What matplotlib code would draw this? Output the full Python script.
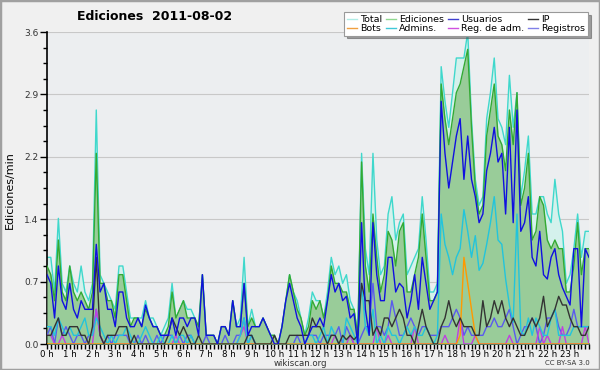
import numpy as np
import matplotlib.pyplot as plt
from matplotlib.lines import Line2D

# Data: edits per minute, 10-minute buckets (0 h .. 23 h 50)
hour_labels = [f"{h} h" for h in range(24)]

total = [
    1.0, 1.0, 0.6, 1.45, 0.7, 0.6, 0.9, 0.7, 0.6, 0.9, 0.6, 0.5,
    0.7, 2.7, 0.8, 0.7, 0.6, 0.5, 0.4, 0.9, 0.9, 0.6, 0.3, 0.3,
    0.3, 0.3, 0.5, 0.3, 0.3, 0.2, 0.1, 0.2, 0.3, 0.7, 0.3, 0.4,
    0.5, 0.4, 0.4, 0.3, 0.2, 0.8, 0.1, 0.1, 0.1, 0.0, 0.2, 0.2,
    0.1, 0.5, 0.2, 0.3, 1.0, 0.2, 0.4, 0.2, 0.2, 0.3, 0.2, 0.1,
    0.1, 0.0, 0.2, 0.5, 0.8, 0.6, 0.5, 0.3, 0.1, 0.3, 0.6, 0.5,
    0.5, 0.3, 0.6, 1.0, 0.8, 0.9, 0.7, 0.8, 0.5, 0.4, 0.1, 2.2,
    1.1, 0.8, 2.2, 1.2, 0.8, 0.9, 1.5, 1.7, 1.2, 1.4, 1.5, 0.8,
    0.9, 1.0, 1.1, 1.7, 1.2, 0.6, 0.6, 0.7, 3.2, 2.8, 2.5, 2.9,
    3.3, 3.3, 3.3, 3.6, 2.6, 1.9, 1.6, 1.7, 2.6, 2.9, 3.3, 2.6,
    2.5, 2.3, 3.1, 2.5, 2.9, 1.7, 2.0, 2.4, 1.5, 1.5, 1.7, 1.7,
    1.5, 1.4, 1.9, 1.5, 1.3, 0.7, 0.8, 1.1, 1.5, 1.0, 1.3, 1.3,
]
ediciones = [
    0.9, 0.8, 0.5, 1.2, 0.6, 0.5, 0.9, 0.6, 0.5, 0.6, 0.5, 0.4,
    0.6, 2.2, 0.7, 0.7, 0.5, 0.5, 0.3, 0.8, 0.8, 0.5, 0.2, 0.3,
    0.3, 0.2, 0.4, 0.3, 0.2, 0.2, 0.1, 0.1, 0.2, 0.6, 0.3, 0.4,
    0.5, 0.3, 0.3, 0.3, 0.2, 0.8, 0.1, 0.1, 0.1, 0.0, 0.2, 0.2,
    0.1, 0.5, 0.2, 0.2, 0.7, 0.2, 0.3, 0.2, 0.2, 0.3, 0.2, 0.1,
    0.1, 0.0, 0.2, 0.5, 0.8, 0.6, 0.4, 0.3, 0.1, 0.2, 0.5, 0.4,
    0.5, 0.3, 0.5, 0.9, 0.7, 0.7, 0.6, 0.6, 0.4, 0.4, 0.1, 2.1,
    0.9, 0.6, 1.5, 1.0, 0.6, 0.8, 1.3, 1.2, 0.9, 1.3, 1.4, 0.6,
    0.6, 0.8, 1.0, 1.5, 1.0, 0.5, 0.5, 0.6, 3.0, 2.6, 2.3, 2.6,
    2.9, 3.0, 3.2, 3.4, 2.5, 1.8, 1.5, 1.6, 2.4, 2.7, 3.0, 2.4,
    2.3, 2.0, 2.7, 2.3, 2.9, 1.6, 1.8, 2.2, 1.2, 1.3, 1.7, 1.6,
    1.2, 1.1, 1.2, 1.1, 1.1, 0.6, 0.6, 0.9, 1.4, 0.8, 1.1, 1.1,
]
usuarios = [
    0.8, 0.7, 0.3, 0.9, 0.5, 0.4, 0.7, 0.4, 0.3, 0.5, 0.4, 0.4,
    0.4, 1.15, 0.6, 0.7, 0.4, 0.4, 0.2, 0.6, 0.6, 0.3, 0.2, 0.2,
    0.3, 0.2, 0.45, 0.3, 0.2, 0.2, 0.1, 0.1, 0.1, 0.3, 0.1, 0.3,
    0.3, 0.2, 0.3, 0.3, 0.1, 0.8, 0.1, 0.1, 0.1, 0.0, 0.2, 0.2,
    0.1, 0.5, 0.2, 0.2, 0.7, 0.1, 0.2, 0.2, 0.2, 0.3, 0.2, 0.1,
    0.0, 0.0, 0.2, 0.5, 0.7, 0.5, 0.3, 0.2, 0.0, 0.1, 0.2, 0.2,
    0.3, 0.2, 0.5, 0.8, 0.6, 0.7, 0.5, 0.55, 0.3, 0.35, 0.0, 1.4,
    0.4, 0.1, 1.4, 0.8, 0.5, 0.5, 1.0, 1.0, 0.6, 0.7, 0.65, 0.3,
    0.5, 0.8, 0.4, 1.0, 0.7, 0.4, 0.5, 0.6, 2.8, 2.2, 1.8, 2.1,
    2.4, 2.6, 1.9, 2.4, 1.9, 1.7, 1.4, 1.5, 2.0, 2.2, 2.5, 2.1,
    2.2, 1.5, 2.5, 1.4, 2.7, 1.3, 1.4, 1.7, 1.0, 0.9, 1.3, 0.8,
    0.75, 1.0, 1.1, 0.8, 0.65, 0.55, 0.45, 1.1, 1.1, 0.2, 1.1, 1.0,
]
ip = [
    0.1, 0.1, 0.2, 0.3, 0.1, 0.1, 0.2, 0.2, 0.2, 0.1, 0.1, 0.0,
    0.2, 1.0, 0.1, 0.0, 0.1, 0.1, 0.1, 0.2, 0.2, 0.2, 0.0, 0.1,
    0.0, 0.0, 0.0, 0.0, 0.0, 0.0, 0.0, 0.0, 0.1, 0.3, 0.2, 0.1,
    0.2, 0.1, 0.0, 0.0, 0.1, 0.0, 0.0, 0.0, 0.0, 0.0, 0.0, 0.0,
    0.0, 0.0, 0.0, 0.0, 0.0, 0.1, 0.1, 0.0, 0.0, 0.0, 0.0, 0.0,
    0.1, 0.0, 0.0, 0.0, 0.1, 0.1, 0.1, 0.1, 0.1, 0.1, 0.3, 0.2,
    0.2, 0.1, 0.0, 0.1, 0.1, 0.0, 0.1, 0.05, 0.1, 0.05, 0.1, 0.7,
    0.5, 0.5, 0.1, 0.2, 0.1, 0.3, 0.3, 0.2, 0.3, 0.4, 0.3, 0.1,
    0.1, 0.0, 0.2, 0.4, 0.2, 0.1, 0.0, 0.0, 0.2, 0.3, 0.5, 0.3,
    0.2, 0.3, 0.2, 0.2, 0.2, 0.1, 0.1, 0.5, 0.2, 0.3, 0.5, 0.35,
    0.5, 0.3, 0.2, 0.3, 0.2, 0.1, 0.1, 0.2, 0.3, 0.2, 0.3, 0.55,
    0.2, 0.3, 0.4, 0.55, 0.45, 0.45, 0.3, 0.2, 0.2, 0.1, 0.1, 0.2,
]
bots = [
    0.0, 0.0, 0.0, 0.0, 0.0, 0.0, 0.0, 0.0, 0.0, 0.0, 0.0, 0.0,
    0.0, 0.0, 0.0, 0.0, 0.0, 0.0, 0.0, 0.0, 0.0, 0.0, 0.0, 0.0,
    0.0, 0.0, 0.0, 0.0, 0.0, 0.0, 0.0, 0.0, 0.0, 0.0, 0.0, 0.0,
    0.0, 0.0, 0.0, 0.0, 0.0, 0.0, 0.0, 0.0, 0.0, 0.0, 0.0, 0.0,
    0.0, 0.0, 0.0, 0.0, 0.0, 0.0, 0.0, 0.0, 0.0, 0.0, 0.0, 0.0,
    0.0, 0.0, 0.0, 0.0, 0.0, 0.0, 0.0, 0.0, 0.0, 0.0, 0.0, 0.0,
    0.0, 0.0, 0.0, 0.0, 0.0, 0.0, 0.0, 0.0, 0.0, 0.0, 0.0, 0.0,
    0.0, 0.0, 0.0, 0.0, 0.0, 0.0, 0.0, 0.0, 0.0, 0.0, 0.0, 0.0,
    0.0, 0.0, 0.0, 0.0, 0.0, 0.0, 0.0, 0.0, 0.0, 0.0, 0.0, 0.0,
    0.0, 0.1, 1.0, 0.7, 0.4, 0.1, 0.0, 0.0, 0.0, 0.0, 0.0, 0.0,
    0.0, 0.0, 0.0, 0.0, 0.0, 0.0, 0.0, 0.0, 0.0, 0.0, 0.0, 0.0,
    0.0, 0.0, 0.0, 0.0, 0.0, 0.0, 0.0, 0.0, 0.0, 0.0, 0.0, 0.0,
]
admins = [
    0.2, 0.2, 0.1, 0.3, 0.2, 0.1, 0.2, 0.1, 0.1, 0.2, 0.3, 0.1,
    0.1, 0.3, 0.2, 0.1, 0.0, 0.1, 0.0, 0.1, 0.1, 0.2, 0.1, 0.0,
    0.0, 0.1, 0.2, 0.1, 0.0, 0.0, 0.1, 0.0, 0.0, 0.1, 0.0, 0.1,
    0.1, 0.0, 0.1, 0.0, 0.0, 0.0, 0.0, 0.0, 0.0, 0.0, 0.0, 0.0,
    0.0, 0.0, 0.0, 0.1, 0.3, 0.0, 0.1, 0.0, 0.0, 0.0, 0.0, 0.0,
    0.0, 0.0, 0.0, 0.0, 0.0, 0.0, 0.0, 0.0, 0.0, 0.1, 0.1, 0.0,
    0.1, 0.2, 0.0, 0.2, 0.1, 0.0, 0.0, 0.3, 0.2, 0.1, 0.0, 0.7,
    0.2, 0.1, 0.4, 0.0, 0.1, 0.0, 0.2, 0.1, 0.1, 0.0, 0.1, 0.2,
    0.1, 0.2, 0.1, 0.1, 0.2, 0.1, 0.0, 0.1, 1.5, 1.15, 1.0, 0.8,
    1.0, 1.1, 1.55, 1.3, 1.0, 1.25, 0.85, 0.93, 1.15, 1.4, 1.7, 1.2,
    1.15, 0.75, 0.45, 0.25, 1.5, 0.15, 0.1, 0.3, 0.1, 0.3, 0.2, 0.1,
    0.1, 0.3, 0.4, 0.1, 0.1, 0.1, 0.1, 0.2, 0.2, 0.2, 0.2, 0.2,
]
reg_adm = [
    0.1, 0.1, 0.0, 0.0, 0.1, 0.0, 0.0, 0.0, 0.0, 0.0, 0.0, 0.0,
    0.0, 0.4, 0.1, 0.0, 0.0, 0.0, 0.0, 0.0, 0.0, 0.0, 0.0, 0.0,
    0.0, 0.0, 0.0, 0.0, 0.0, 0.0, 0.0, 0.0, 0.0, 0.0, 0.1, 0.0,
    0.0, 0.0, 0.0, 0.0, 0.0, 0.0, 0.0, 0.0, 0.0, 0.0, 0.0, 0.0,
    0.0, 0.0, 0.0, 0.1, 0.2, 0.0, 0.0, 0.0, 0.0, 0.0, 0.0, 0.0,
    0.0, 0.0, 0.0, 0.0, 0.0, 0.0, 0.0, 0.0, 0.0, 0.0, 0.0, 0.0,
    0.0, 0.0, 0.0, 0.0, 0.1, 0.0, 0.0, 0.0, 0.1, 0.0, 0.0, 0.0,
    0.0, 0.0, 0.0, 0.2, 0.0, 0.0, 0.1, 0.0, 0.0, 0.0, 0.0, 0.0,
    0.0, 0.2, 0.0, 0.0, 0.0, 0.0, 0.0, 0.0, 0.0, 0.1, 0.0, 0.0,
    0.0, 0.3, 0.0, 0.0, 0.0, 0.1, 0.0, 0.0, 0.0, 0.0, 0.0, 0.0,
    0.0, 0.0, 0.1, 0.0, 0.0, 0.0, 0.0, 0.0, 0.0, 0.0, 0.2, 0.0,
    0.1, 0.0, 0.0, 0.0, 0.2, 0.0, 0.0, 0.0, 0.0, 0.0, 0.2, 0.0,
]
registros = [
    0.1, 0.2, 0.0, 0.3, 0.1, 0.2, 0.1, 0.0, 0.1, 0.1, 0.0, 0.1,
    0.1, 0.4, 0.1, 0.0, 0.1, 0.0, 0.1, 0.1, 0.1, 0.1, 0.0, 0.0,
    0.1, 0.0, 0.1, 0.0, 0.0, 0.1, 0.0, 0.1, 0.1, 0.1, 0.0, 0.1,
    0.0, 0.1, 0.1, 0.0, 0.0, 0.0, 0.1, 0.0, 0.0, 0.0, 0.0, 0.1,
    0.0, 0.0, 0.1, 0.1, 0.3, 0.0, 0.1, 0.0, 0.0, 0.0, 0.0, 0.0,
    0.0, 0.0, 0.0, 0.0, 0.0, 0.0, 0.1, 0.0, 0.0, 0.1, 0.1, 0.1,
    0.0, 0.1, 0.1, 0.1, 0.1, 0.2, 0.0, 0.2, 0.1, 0.0, 0.0, 0.1,
    0.2, 0.2, 0.7, 0.2, 0.2, 0.1, 0.2, 0.5, 0.3, 0.1, 0.1, 0.2,
    0.3, 0.2, 0.1, 0.2, 0.2, 0.1, 0.1, 0.1, 0.2, 0.2, 0.2, 0.3,
    0.4, 0.3, 0.1, 0.2, 0.1, 0.1, 0.1, 0.1, 0.2, 0.2, 0.3, 0.2,
    0.2, 0.3, 0.4, 0.2, 0.0, 0.1, 0.2, 0.2, 0.3, 0.2, 0.0, 0.1,
    0.3, 0.3, 0.4, 0.2, 0.1, 0.1, 0.2, 0.4, 0.2, 0.2, 0.2, 0.2,
]

c_total, c_total_fill = "#3fd8cc", "#d4f1ec"
c_edic, c_edic_fill = "#33aa33", "#99cc99"
c_usu = "#1010e0"
c_ip = "#333333"
c_bots = "#ff9900"
c_adm = "#22c4dc"
c_regadm = "#c040e0"
c_reg = "#5a5aee"

fig = plt.figure(figsize=(6, 3.7), dpi=100)
fig.patch.set_facecolor("#f0f0f0")
ax = fig.add_axes([47 / 600, 26 / 370, 542 / 600, 312 / 370])
ax.set_facecolor("#eceef0")

x = np.arange(len(total))
ax.fill_between(x, total, color=c_total_fill, lw=0, zorder=1)
ax.plot(x, total, color=c_total, lw=1.0, zorder=2)
ax.fill_between(x, ediciones, color=c_edic_fill, lw=0, zorder=3)
ax.plot(x, ediciones, color=c_edic, lw=1.0, zorder=4)
ax.plot(x, registros, color=c_reg, lw=1.0, zorder=5)
ax.plot(x, reg_adm, color=c_regadm, lw=1.0, zorder=6)
ax.plot(x, admins, color=c_adm, lw=1.0, zorder=7)
ax.plot(x, bots, color=c_bots, lw=1.0, zorder=8)
ax.plot(x, ip, color=c_ip, lw=1.0, zorder=9)
ax.plot(x, usuarios, color=c_usu, lw=1.0, zorder=10)

ax.set_xlim(0, len(total) - 1)
ax.set_ylim(0, 3.6)
ax.set_xticks(np.arange(0, 144, 6))
ax.set_xticklabels(hour_labels, fontsize=6.2)
ax.set_xticks(x, minor=True)
yt = np.linspace(0, 3.6, 6)
ax.set_yticks(yt)
ax.set_yticklabels(["0.0", "0.7", "1.4", "2.2", "2.9", "3.6"], fontsize=6.5, color="#333333")
ax.set_yticks(np.linspace(0, 3.6, 21), minor=True)
ax.tick_params(axis="x", which="both", length=3.5, width=1, pad=0.5, direction="out")
ax.tick_params(axis="y", which="major", length=5, width=1, pad=1)
ax.tick_params(axis="y", which="minor", length=3, width=1)
ax.yaxis.grid(True, color="#c8c8c8", lw=0.8)
ax.set_axisbelow(True)
for s in ["top", "right"]:
    ax.spines[s].set_visible(False)
ax.spines["left"].set_linewidth(1.2)
ax.spines["bottom"].set_linewidth(1.2)

fig.text(155 / 600, 1 - 16 / 370, "Ediciones  2011-08-02", ha="center", va="center",
         fontsize=9, fontweight="bold")
fig.text(10 / 600, 1 - 190 / 370, "Ediciones/min", rotation=90, ha="center", va="center", fontsize=8)
fig.text(300 / 600, 1 - 363 / 370, "wikiscan.org", ha="center", va="center", fontsize=6.2, color="#333333")
fig.text(590 / 600, 1 - 363 / 370, "CC BY-SA 3.0", ha="right", va="center", fontsize=5, color="#333333")

handles = [
    Line2D([], [], color="#b0ece6", lw=1),
    Line2D([], [], color="#90d890", lw=1),
    Line2D([], [], color="#4040d0", lw=1),
    Line2D([], [], color="#333333", lw=1),
    Line2D([], [], color="#f0a040", lw=1),
    Line2D([], [], color="#40c8d8", lw=1),
    Line2D([], [], color="#d050e0", lw=1),
    Line2D([], [], color="#8080e8", lw=1),
]
names = ["Total", "Ediciones", "Usuarios", "IP", "Bots", "Admins.", "Reg. de adm.", "Registros"]
# column-major ordering so rows read Total/Ediciones/Usuarios/IP then Bots/...
order = [0, 4, 1, 5, 2, 6, 3, 7]
leg = fig.legend([handles[i] for i in order], [names[i] for i in order], ncol=4,
                 loc="upper right", bbox_to_anchor=(588 / 600, 1 - 12 / 370),
                 fontsize=6.8, frameon=True, fancybox=False, shadow=True,
                 handlelength=1.1, handletextpad=0.3, columnspacing=0.4,
                 labelspacing=0.0, borderpad=0.3, borderaxespad=0)
leg.get_frame().set_edgecolor("#999999")
leg.get_frame().set_linewidth(0.8)

fig.patches.append(plt.Rectangle((0, 0), 1, 1, transform=fig.transFigure, fill=False,
                                 edgecolor="#a0a0a0", lw=2.5))

fig.savefig("out.png", dpi=100, facecolor=fig.get_facecolor())
